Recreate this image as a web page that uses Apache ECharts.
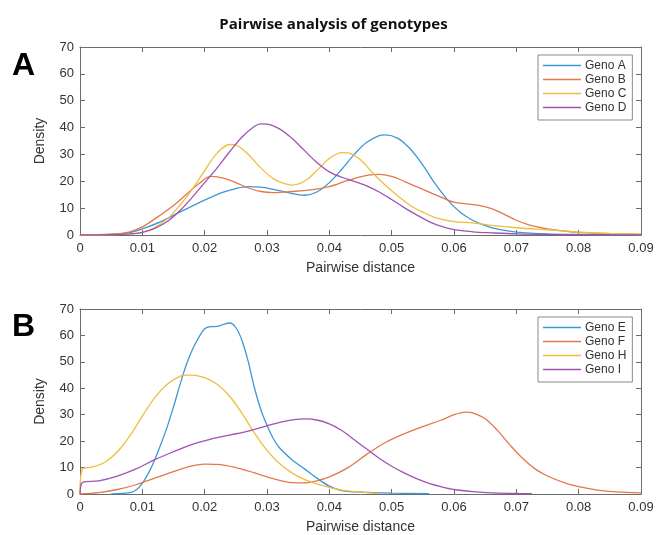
<!DOCTYPE html>
<html>
<head>
<meta charset="utf-8">
<script src="https://cdn.jsdelivr.net/npm/echarts@6/dist/echarts.min.js"></script>
<style>
  html, body { margin: 0; padding: 0; background: #fff; }
  #chart { width: 667px; height: 535px; }
</style>
</head>
<body>
<div id="chart"></div>
<script>
// ---- Data (x = pairwise distance, y = density) ----
const titleText = 'Pairwise analysis of genotypes';
const xTicks = [0, 0.01, 0.02, 0.03, 0.04, 0.05, 0.06, 0.07, 0.08, 0.09];
const yTicks = [0, 10, 20, 30, 40, 50, 60, 70];

const namesA = ['Geno A', 'Geno B', 'Geno C', 'Geno D'];
const namesB = ['Geno E', 'Geno F', 'Geno H', 'Geno I'];

const genoA = [[0,0],[0.005,0.2],[0.008,0.9],[0.01,2.3],[0.013,5],[0.016,8.5],[0.02,13],[0.023,16],[0.025,17.3],[0.027,18],[0.029,17.8],[0.031,17],[0.033,16],[0.036,14.8],[0.038,16],[0.04,19.5],[0.042,24.5],[0.044,30],[0.046,34.5],[0.048,37],[0.049,37.3],[0.051,36],[0.053,32],[0.055,26],[0.057,19],[0.059,13],[0.061,8.5],[0.063,5.5],[0.065,3.5],[0.067,2.2],[0.07,1.1],[0.075,0.4],[0.08,0.2],[0.09,0]];
const genoB = [[0,0],[0.005,0.3],[0.008,1.2],[0.01,3],[0.012,6],[0.015,11],[0.017,15],[0.019,19],[0.021,21.8],[0.023,21.2],[0.025,19.5],[0.027,17.5],[0.029,16.2],[0.031,15.8],[0.034,16.2],[0.037,16.8],[0.04,18],[0.043,20.3],[0.046,22.2],[0.048,22.6],[0.05,21.8],[0.052,20],[0.055,17],[0.058,14],[0.06,12.2],[0.062,11.6],[0.064,11],[0.066,9.8],[0.068,7.8],[0.07,5.5],[0.072,3.8],[0.075,2.3],[0.078,1.4],[0.08,1.0],[0.085,0.5],[0.09,0.2]];
const genoC = [[0,0],[0.005,0.1],[0.008,0.4],[0.01,1],[0.012,2.8],[0.014,6],[0.016,11],[0.018,17],[0.02,24],[0.022,30.5],[0.024,33.7],[0.025,33.5],[0.027,30],[0.029,25],[0.031,21],[0.033,19],[0.034,18.6],[0.036,20],[0.038,24],[0.04,28.5],[0.042,30.7],[0.043,30.6],[0.045,28],[0.047,23],[0.049,18.5],[0.051,14.5],[0.053,11],[0.055,8.5],[0.057,6.5],[0.06,5],[0.063,4.5],[0.066,3.6],[0.07,2.7],[0.075,1.9],[0.08,1.1],[0.085,0.6],[0.09,0.3]];
const genoD = [[0,0],[0.005,0.1],[0.008,0.4],[0.01,1],[0.012,2.5],[0.014,5],[0.016,9],[0.018,14],[0.02,19.5],[0.022,25],[0.024,31],[0.026,36.5],[0.028,40.5],[0.029,41.4],[0.03,41.3],[0.032,39.5],[0.034,36],[0.036,31.5],[0.038,27],[0.04,23.5],[0.042,21.5],[0.044,20],[0.046,18.3],[0.048,16],[0.05,13.2],[0.052,10.2],[0.054,7.5],[0.056,5],[0.058,3.2],[0.06,2],[0.063,1.2],[0.066,0.8],[0.07,0.4],[0.075,0.2],[0.08,0.1],[0.09,0]];

const genoE = [[0.005,0],[0.008,0.5],[0.009,1.5],[0.01,4],[0.011,8],[0.012,13],[0.013,19],[0.014,25.5],[0.015,33],[0.016,41],[0.017,48.5],[0.018,54.5],[0.019,59],[0.02,62.5],[0.021,63.3],[0.022,63.4],[0.023,64.2],[0.024,64.7],[0.025,63],[0.026,58],[0.027,50],[0.028,40],[0.029,32],[0.03,26],[0.031,21],[0.032,17.5],[0.034,13],[0.036,9.5],[0.038,6],[0.04,3],[0.042,1.3],[0.045,0.7],[0.05,0.3],[0.056,0.1]];
const genoF = [[0,0],[0.003,0.5],[0.006,1.7],[0.009,3.5],[0.012,6],[0.015,8.5],[0.018,10.6],[0.02,11.3],[0.022,11.2],[0.025,10],[0.028,8],[0.031,5.8],[0.034,4.3],[0.036,4.2],[0.038,5],[0.04,6.5],[0.043,10],[0.046,15],[0.049,19.5],[0.052,22.8],[0.055,25.5],[0.058,28],[0.06,30],[0.062,31],[0.063,30.7],[0.065,28.5],[0.067,24],[0.069,18.5],[0.071,13.5],[0.073,9.5],[0.075,6.8],[0.078,4],[0.08,2.8],[0.083,1.5],[0.086,0.8],[0.09,0.4]];
const genoH = [[0,0],[0.0004,9.5],[0.002,10.2],[0.004,12],[0.006,16],[0.008,22],[0.01,29.5],[0.012,36.5],[0.014,41.5],[0.016,44.5],[0.017,45],[0.018,45],[0.02,44],[0.022,41.5],[0.024,37],[0.026,30.5],[0.028,23],[0.03,16.5],[0.032,11.5],[0.034,8],[0.036,5.5],[0.038,3.8],[0.04,2.5],[0.042,1.5],[0.045,0.7],[0.048,0.2]];
const genoI = [[0,0],[0.0005,4.5],[0.003,5],[0.006,6.8],[0.009,9.5],[0.012,13],[0.015,16],[0.018,18.8],[0.021,20.8],[0.024,22.3],[0.027,23.8],[0.03,25.8],[0.033,27.6],[0.036,28.4],[0.038,28],[0.04,26.5],[0.042,24],[0.044,20.5],[0.046,17],[0.048,13.5],[0.05,10.5],[0.052,8],[0.054,5.8],[0.056,4],[0.058,2.7],[0.06,1.7],[0.063,0.9],[0.066,0.4],[0.07,0.2],[0.0725,0.1]];

const colors = ['#3d98d6', '#e4784c', '#f0bd3e', '#a054b0'];

// ---- Chart ----
const chart = echarts.init(document.getElementById('chart'), null, { renderer: 'canvas' });
const FONT = 'Liberation Sans';
const axisColor = '#6b6b6b';
const labelColor = '#333';

function xAxes(gridIndex) {
  return [
    {
      type: 'value', gridIndex, min: xTicks[0], max: xTicks[xTicks.length - 1], interval: 0.01,
      name: 'Pairwise distance', nameLocation: 'middle', nameGap: 26,
      nameTextStyle: { fontFamily: FONT, fontSize: 14, color: labelColor },
      axisLine: { show: true, onZero: false, lineStyle: { color: axisColor, width: 1 } },
      axisTick: { show: true, inside: true, length: 5, lineStyle: { color: axisColor } },
      axisLabel: { fontFamily: FONT, fontSize: 13, color: labelColor, margin: 7,
        formatter: v => String(+v.toFixed(2)) },
      splitLine: { show: false }
    },
    {
      type: 'value', gridIndex, position: 'top', min: xTicks[0], max: xTicks[xTicks.length - 1], interval: 0.01,
      axisLine: { show: true, onZero: false, lineStyle: { color: axisColor, width: 1 } },
      axisTick: { show: true, inside: true, length: 5, lineStyle: { color: axisColor } },
      axisLabel: { show: false }, splitLine: { show: false }
    }
  ];
}
function yAxes(gridIndex) {
  return [
    {
      type: 'value', gridIndex, min: yTicks[0], max: yTicks[yTicks.length - 1], interval: 10,
      name: 'Density', nameLocation: 'middle', nameGap: 33, nameRotate: 90,
      nameTextStyle: { fontFamily: FONT, fontSize: 14, color: labelColor },
      axisLine: { show: true, onZero: false, lineStyle: { color: axisColor, width: 1 } },
      axisTick: { show: true, inside: true, length: 5, lineStyle: { color: axisColor } },
      axisLabel: { fontFamily: FONT, fontSize: 13, color: labelColor, margin: 6 },
      splitLine: { show: false }
    },
    {
      type: 'value', gridIndex, position: 'right', min: yTicks[0], max: yTicks[yTicks.length - 1], interval: 10,
      axisLine: { show: true, onZero: false, lineStyle: { color: axisColor, width: 1 } },
      axisTick: { show: true, inside: true, length: 5, lineStyle: { color: axisColor } },
      axisLabel: { show: false }, splitLine: { show: false }
    }
  ];
}

function mkSeries(name, data, color, xi, yi) {
  return {
    type: 'line', name, data, xAxisIndex: xi, yAxisIndex: yi,
    smooth: 0.35, showSymbol: false, symbol: 'none',
    lineStyle: { color, width: 1.3 }, itemStyle: { color },
    animation: false, z: 3
  };
}

function legendFor(names, top) {
  return {
    orient: 'vertical', data: names, left: 538, top: top,
    icon: 'rect', itemWidth: 38, itemHeight: 1.5, itemGap: 1,
    backgroundColor: '#fff',
    borderColor: '#8a8a8a', borderWidth: 1, borderRadius: 0,
    padding: [4, 6, 6, 5],
    textStyle: { fontFamily: FONT, fontSize: 12, color: labelColor, lineHeight: 13, padding: [0, 0, 0, -1] },
    selectedMode: false
  };
}

const option = {
  backgroundColor: '#fff',
  animation: false,
  title: {
    text: titleText, left: 'center', top: 12,
    textStyle: { fontFamily: 'Open Sans', fontWeight: 'bold', fontSize: 15, color: '#111' }
  },
  graphic: [
    { type: 'text', left: 12, top: 50, style: { text: 'A', font: 'bold 32px "Liberation Sans"', fill: '#000' } },
    { type: 'text', left: 12, top: 311, style: { text: 'B', font: 'bold 32px "Liberation Sans"', fill: '#000' } }
  ],
  legend: [legendFor(namesA, 55), legendFor(namesB, 317)],
  grid: [
    { left: 80, right: 26, top: 47, height: 188 },
    { left: 80, right: 26, top: 309, height: 188 }
  ],
  xAxis: [...xAxes(0), ...xAxes(1)],
  yAxis: [...yAxes(0), ...yAxes(1)],
  series: [
    mkSeries(namesA[0], genoA, colors[0], 0, 0),
    mkSeries(namesA[1], genoB, colors[1], 0, 0),
    mkSeries(namesA[2], genoC, colors[2], 0, 0),
    mkSeries(namesA[3], genoD, colors[3], 0, 0),
    mkSeries(namesB[0], genoE, colors[0], 2, 2),
    mkSeries(namesB[1], genoF, colors[1], 2, 2),
    mkSeries(namesB[2], genoH, colors[2], 2, 2),
    mkSeries(namesB[3], genoI, colors[3], 2, 2)
  ]
};
chart.setOption(option);
</script>
</body>
</html>
